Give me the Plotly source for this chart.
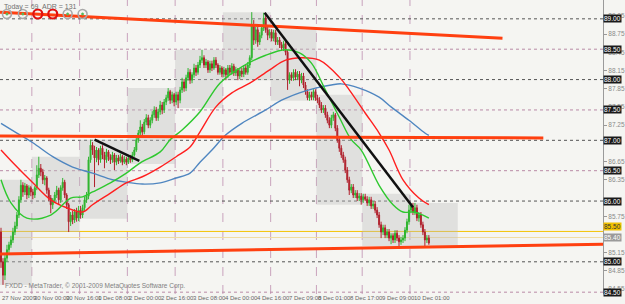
import plotly.graph_objects as go

# ---------------- data (H1 bars, 27 Nov 2009 - 10 Dec 2009) ----------------
FIRST_OPEN = 85.49
CLOSE = [
 85.00,84.78,85.06,85.20,85.28,85.36,85.49,85.59,85.77,86.02,86.26,86.15,86.25,86.10,86.22,86.15,
 86.10,86.22,86.43,86.54,86.48,86.35,86.38,86.18,86.05,85.94,86.02,86.10,86.18,86.02,86.22,86.31,
 86.10,85.94,85.66,85.77,85.69,85.82,85.72,85.85,
 85.77,85.89,86.02,86.08,86.68,86.92,86.84,86.71,86.84,86.68,86.87,86.76,86.68,86.81,86.73,86.68,
 86.76,86.64,86.71,86.66,86.73,86.64,86.69,86.64,
 86.71,86.68,86.76,86.84,87.01,87.12,87.22,87.14,87.30,87.37,87.25,87.33,87.42,87.50,87.37,87.47,
 87.58,87.50,87.63,87.70,87.80,87.66,87.75,87.63,
 87.75,87.66,87.83,87.96,87.86,88.03,88.12,87.99,88.08,88.19,88.12,88.24,88.32,88.36,88.24,88.29,
 88.16,88.26,88.19,88.32,88.24,88.12,88.19,88.09,
 88.16,88.08,88.19,88.12,88.22,88.11,88.16,88.06,88.14,88.09,88.19,88.12,88.24,88.36,88.90,88.65,
 88.82,88.62,88.73,88.85,89.01,88.82,88.73,88.78,
 88.68,88.77,88.62,88.65,88.57,88.52,88.59,88.45,87.99,88.08,88.03,88.12,88.04,88.09,87.99,88.06,
 87.91,87.80,87.70,87.75,87.71,87.80,87.70,87.66,
 87.58,87.50,87.53,87.42,87.33,87.25,87.37,87.42,87.20,87.01,86.87,86.76,86.68,86.51,86.35,86.18,
 86.23,86.10,86.13,86.05,86.08,86.02,86.07,86.03,
 85.97,86.02,85.92,85.95,85.85,85.77,85.61,85.49,85.56,85.44,85.49,85.39,85.43,85.36,85.47,85.39,
 85.33,85.36,85.39,85.52,85.66,85.85,85.92,85.82,
 85.89,85.72,85.77,85.61,85.49,85.36,85.39,85.31,
]
HIGH = [
 85.56,85.06,85.11,85.28,85.33,85.43,85.56,85.66,85.82,86.08,86.35,86.31,86.30,86.28,86.26,86.25,
 86.20,86.25,86.59,86.73,86.61,86.53,86.43,86.41,86.22,86.10,86.05,86.15,86.25,86.22,86.26,86.38,
 86.35,86.13,85.97,85.82,85.84,85.87,85.89,85.92,
 85.92,85.94,86.07,86.15,86.73,87.01,86.97,86.91,86.89,86.87,86.91,86.92,86.81,86.86,86.84,86.77,
 86.81,86.79,86.76,86.76,86.78,86.76,86.74,86.73,
 86.76,86.76,86.81,86.89,87.06,87.17,87.33,87.27,87.35,87.43,87.42,87.38,87.48,87.56,87.55,87.52,
 87.65,87.63,87.68,87.75,87.86,87.83,87.80,87.78,
 87.80,87.80,87.88,88.03,88.01,88.08,88.19,88.17,88.12,88.26,88.24,88.29,88.39,88.49,88.40,88.34,
 88.32,88.31,88.31,88.37,88.37,88.27,88.24,88.22,
 88.21,88.19,88.24,88.24,88.27,88.26,88.21,88.19,88.19,88.19,88.24,88.24,88.29,88.40,89.11,88.98,
 88.87,88.87,88.78,88.90,89.10,89.06,88.87,88.83,
 88.83,88.82,88.82,88.70,88.70,88.62,88.64,88.64,88.49,88.12,88.12,88.17,88.17,88.14,88.14,88.11,
 88.11,87.96,87.84,87.80,87.80,87.84,87.84,87.75,
 87.71,87.63,87.58,87.58,87.47,87.38,87.42,87.47,87.45,87.25,87.06,86.92,86.81,86.73,86.56,86.40,
 86.28,86.28,86.18,86.18,86.13,86.13,86.12,86.12,
 86.08,86.07,86.07,86.00,86.00,85.90,85.82,85.66,85.61,85.61,85.54,85.54,85.47,85.47,85.52,85.52,
 85.44,85.41,85.44,85.57,85.71,85.94,85.97,85.97,
 85.97,85.94,85.82,85.82,85.66,85.54,85.44,85.44,
]
LOW = [
 84.90,84.62,84.70,85.00,85.15,85.23,85.31,85.44,85.54,85.72,85.97,86.07,86.10,86.03,86.05,86.08,
 86.03,86.05,86.18,86.38,86.41,86.28,86.26,86.12,86.00,85.80,85.87,85.97,86.05,85.95,85.97,86.17,
 86.05,85.87,85.49,85.59,85.62,85.64,85.66,85.67,
 85.71,85.72,85.84,85.97,86.03,86.63,86.76,86.23,86.64,86.59,86.63,86.69,86.54,86.63,86.66,86.61,
 86.63,86.51,86.59,86.61,86.63,86.59,86.61,86.59,
 86.61,86.63,86.64,86.73,86.81,86.96,87.07,87.07,87.10,87.25,87.20,87.20,87.28,87.37,87.32,87.32,
 87.42,87.43,87.45,87.58,87.65,87.60,87.61,87.56,
 87.58,87.53,87.61,87.78,87.80,87.81,87.98,87.93,87.94,88.03,88.06,88.08,88.19,88.27,88.19,88.19,
 88.11,88.11,88.14,88.16,88.19,88.08,88.08,88.04,
 88.04,87.99,88.03,88.08,88.08,88.06,88.06,87.99,88.01,88.04,88.04,88.08,88.08,88.19,88.32,88.57,
 88.59,88.54,88.57,88.68,88.80,88.77,88.65,88.68,
 88.63,88.63,88.57,88.57,88.52,88.47,88.47,88.40,87.83,87.93,87.98,87.98,87.99,87.99,87.89,87.94,
 87.86,87.75,87.66,87.65,87.66,87.66,87.65,87.61,
 87.53,87.45,87.45,87.37,87.28,87.20,87.20,87.32,87.15,86.96,86.81,86.71,86.63,86.46,86.30,86.10,
 86.13,86.05,86.05,86.00,86.00,85.94,85.97,86.00,
 85.92,85.92,85.87,85.87,85.80,85.72,85.56,85.39,85.44,85.39,85.39,85.34,85.29,85.31,85.31,85.34,
 85.26,85.28,85.31,85.34,85.47,85.61,85.80,85.77,
 85.77,85.67,85.66,85.56,85.44,85.26,85.31,85.28,
]

# day starts (bar index) for day separators and daily range boxes
DAY_STARTS = [0, 16, 40, 64, 88, 112, 136, 159, 182, 206]
DAY_LEN = 24

# moving averages (bar index, price)
MA_FAST_X = [0, 5, 13, 25, 35, 41, 46, 55, 63, 70, 80, 85, 91, 100, 110, 121, 133, 143, 150, 156, 163, 170, 176, 181, 190, 197, 202, 207, 212, 215]
MA_FAST_Y = [86.35, 85.97, 85.72, 85.77, 86.05, 86.07, 86.15, 86.30, 86.46, 86.63, 86.81, 87.01, 87.17, 87.47, 87.94, 88.21, 88.40, 88.49, 88.44, 88.27, 87.83, 87.38, 87.01, 86.84, 86.26, 85.94, 85.82, 85.82, 85.77, 85.72]
MA_MID_X = [0, 6, 16, 25, 33, 41, 46, 55, 63, 71, 80, 88, 95, 100, 108, 116, 125, 135, 143, 151, 160, 170, 175, 183, 190, 195, 202, 210, 215]
MA_MID_Y = [86.84, 86.63, 86.30, 86.02, 85.89, 85.82, 85.94, 86.13, 86.30, 86.40, 86.56, 86.73, 86.89, 87.14, 87.55, 87.78, 87.94, 88.16, 88.32, 88.36, 88.32, 88.04, 87.83, 87.45, 87.12, 86.84, 86.35, 86.05, 85.94]
MA_SLOW_X = [0, 8, 16, 26, 36, 46, 56, 63, 71, 80, 88, 95, 100, 106, 113, 121, 133, 141, 150, 158, 166, 171, 180, 190, 196, 205, 213, 215]
MA_SLOW_Y = [87.28, 87.12, 86.96, 86.73, 86.56, 86.46, 86.35, 86.31, 86.28, 86.30, 86.38, 86.46, 86.64, 86.84, 87.09, 87.28, 87.50, 87.66, 87.78, 87.86, 87.91, 87.93, 87.86, 87.71, 87.55, 87.33, 87.12, 87.08]

# drawn trend lines: (x0, y0, x1, y1)
TREND_RED = [(-0.5, 89.11, 252.0, 88.68), (-0.5, 87.07, 272.5, 87.04), (-0.5, 85.13, 302.5, 85.29)]
TREND_BLACK = [(47.0, 87.01, 69.5, 86.66), (132.5, 89.10, 207.0, 85.90)]

# horizontal levels
LEVELS_DARK = [89.00, 88.00, 87.00, 86.00, 85.00]
LEVELS_PINK = [88.50, 87.50, 86.50, 84.50]
LEVEL_GOLD = 85.50
BID = 85.40

# right-axis price scale labels (those fully hidden behind level boxes are not drawn)
PRICE_TICKS = [84.55, 84.85, 85.15, 85.75, 86.35, 86.65, 87.25, 87.55, 87.85, 88.15, 88.45, 88.75, 89.05]

TIME_LABEL_BARS = [0, 16, 32, 48, 64, 80, 96, 112, 128, 144, 159, 175, 191, 207]
TIME_LABELS = ["27 Nov 2009", "30 Nov 00:00", "30 Nov 16:00", "1 Dec 08:00", "2 Dec 00:00", "2 Dec 16:00",
               "3 Dec 08:00", "4 Dec 00:00", "4 Dec 16:00", "7 Dec 09:00", "8 Dec 01:00", "8 Dec 17:00",
               "9 Dec 09:00", "10 Dec 01:00"]

HEADER = ["Today = 69", "ADR = 131"]
FOOTER = "FXDD - MetaTrader, © 2001-2009 MetaQuotes Software Corp."

# ---------------- figure ----------------
UP = "#2fb52f"
DOWN = "#b0202c"
BG = "#f5f5f2"
FONT = "Liberation Sans"

OPEN = [FIRST_OPEN] + CLOSE[:-1]
bars = list(range(len(CLOSE)))

fig = go.Figure()

# daily range boxes & day separators
shapes = []
for k, s in enumerate(DAY_STARTS):
    e = DAY_STARTS[k + 1] if k + 1 < len(DAY_STARTS) else s + DAY_LEN
    seg_hi = HIGH[s:min(e, len(HIGH))]
    seg_lo = LOW[s:min(e, len(LOW))]
    shapes.append(dict(type="rect", xref="x", yref="y", x0=s - 0.5, x1=e - 0.5,
                       y0=min(seg_lo), y1=max(seg_hi), fillcolor="rgba(190,190,190,0.38)",
                       line=dict(width=0), layer="below"))
    if s > 0:
        shapes.append(dict(type="line", xref="x", yref="paper", x0=s - 0.5, x1=s - 0.5, y0=0, y1=1,
                           line=dict(color="#c9a3bd", width=1, dash="dash"), layer="below"))

for lv in LEVELS_DARK:
    shapes.append(dict(type="line", xref="paper", yref="y", x0=0, x1=1, y0=lv, y1=lv,
                       line=dict(color="#555555", width=1, dash="dot"), layer="below"))
for lv in LEVELS_PINK:
    shapes.append(dict(type="line", xref="paper", yref="y", x0=0, x1=1, y0=lv, y1=lv,
                       line=dict(color="#b98aa6", width=1, dash="dot"), layer="below"))
shapes.append(dict(type="line", xref="paper", yref="y", x0=0, x1=1, y0=LEVEL_GOLD, y1=LEVEL_GOLD,
                   line=dict(color="#f2c200", width=1), layer="below"))
shapes.append(dict(type="line", xref="paper", yref="y", x0=0, x1=1, y0=BID, y1=BID,
                   line=dict(color="#f1dca0", width=1), layer="below"))

fig.add_trace(go.Candlestick(
    x=bars, open=OPEN, high=HIGH, low=LOW, close=CLOSE,
    increasing=dict(line=dict(color=UP, width=1), fillcolor=UP),
    decreasing=dict(line=dict(color=DOWN, width=1), fillcolor=DOWN),
    whiskerwidth=0, showlegend=False, hoverinfo="skip"))

for xs, ys, col in [(MA_SLOW_X, MA_SLOW_Y, "#4f86c0"), (MA_MID_X, MA_MID_Y, "#ff1f1f"), (MA_FAST_X, MA_FAST_Y, "#2ec82e")]:
    fig.add_trace(go.Scatter(x=xs, y=ys, mode="lines", line=dict(color=col, width=1.4, shape="spline"),
                             showlegend=False, hoverinfo="skip"))

for (x0, y0, x1, y1) in TREND_RED:
    fig.add_trace(go.Scatter(x=[x0, x1], y=[y0, y1], mode="lines", line=dict(color="#ff4010", width=3),
                             showlegend=False, hoverinfo="skip"))
for (x0, y0, x1, y1) in TREND_BLACK:
    fig.add_trace(go.Scatter(x=[x0, x1], y=[y0, y1], mode="lines", line=dict(color="#111111", width=2.5),
                             showlegend=False, hoverinfo="skip"))

W, H = 625, 304
ML, MR, MT, MB = 0, 19, 0, 10
PW, PH = W - ML - MR, H - MT - MB

def px(xp):
    return xp / PW

def py(yp):
    return 1 - yp / PH

# indicator circles top-left
for i, cx in enumerate([7, 23, 38, 53, 68, 83]):
    red = i in (2, 3)
    shapes.append(dict(type="circle", xref="paper", yref="paper",
                       x0=px(cx - 4.5), x1=px(cx + 4.5), y0=py(14 + 4.5), y1=py(14 - 4.5),
                       line=dict(color="#e01010" if red else "#a8a8a8", width=2.2 if red else 1.6),
                       fillcolor="rgba(0,0,0,0)"))
    if not red:
        shapes.append(dict(type="circle", xref="paper", yref="paper",
                           x0=px(cx - 1.2), x1=px(cx + 1.2), y0=py(14 + 1.2), y1=py(14 - 1.2),
                           line=dict(color="#5cb85c", width=0.5), fillcolor="#5cb85c"))

annotations = []
annotations.append(dict(xref="paper", yref="paper", x=px(2), y=py(1), xanchor="left", yanchor="top",
                        text=HEADER[0], showarrow=False, font=dict(family=FONT, size=7, color="#707070")))
annotations.append(dict(xref="paper", yref="paper", x=px(40), y=py(1), xanchor="left", yanchor="top",
                        text=HEADER[1], showarrow=False, font=dict(family=FONT, size=7, color="#707070")))
annotations.append(dict(xref="paper", yref="paper", x=px(3), y=py(292), xanchor="left", yanchor="bottom",
                        text=FOOTER, showarrow=False, font=dict(family=FONT, size=6.5, color="#808080")))

for b, t in zip(TIME_LABEL_BARS, TIME_LABELS):
    annotations.append(dict(xref="x", yref="paper", x=b - 0.5, y=0, xanchor="left", yanchor="top",
                            yshift=1, text=t, showarrow=False,
                            font=dict(family=FONT, size=6, color="#666666")))

for lv in LEVELS_DARK + LEVELS_PINK:
    annotations.append(dict(xref="paper", yref="y", x=1, y=lv, xanchor="left", yanchor="middle",
                            text=f"{lv:.2f}", showarrow=False, bgcolor="#1a1a1a", borderpad=0,
                            font=dict(family=FONT, size=6.5, color="#ffffff")))
annotations.append(dict(xref="paper", yref="y", x=1, y=LEVEL_GOLD, xanchor="left", yanchor="bottom",
                        text=f"{LEVEL_GOLD:.2f}", showarrow=False, bgcolor="#f2c200", borderpad=0,
                        font=dict(family=FONT, size=6.5, color="#333333")))
annotations.append(dict(xref="paper", yref="y", x=1, y=BID, xanchor="left", yanchor="middle",
                        text=f"{BID:.2f}", showarrow=False, bgcolor="#9a9a9a", borderpad=0,
                        font=dict(family=FONT, size=6.5, color="#ffffff")))

fig.update_layout(
    width=W, height=H, margin=dict(l=ML, r=MR, t=MT, b=MB),
    paper_bgcolor=BG, plot_bgcolor=BG,
    shapes=shapes, annotations=annotations, showlegend=False,
    xaxis=dict(range=[-0.5, 302.5], showgrid=False, zeroline=False, showticklabels=False,
               rangeslider=dict(visible=False), showline=False, fixedrange=True),
    yaxis=dict(range=[84.47, 89.31], side="right", showgrid=False, zeroline=False,
               tickvals=PRICE_TICKS, ticktext=[f"{v:.2f}" for v in PRICE_TICKS],
               ticks="outside", ticklen=3, tickcolor="#999999",
               tickfont=dict(family=FONT, size=6.5, color="#8a8a8a"),
               showline=True, linecolor="#9a9a9a", linewidth=1, fixedrange=True),
)

fig.write_html("out.html")
